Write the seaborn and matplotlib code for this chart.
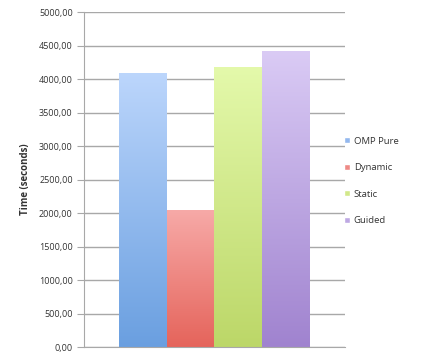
import seaborn as sns
import matplotlib.pyplot as plt
import matplotlib.colors as mcolors
import numpy as np
import pandas as pd

schedules = ['OMP Pure', 'Dynamic', 'Static', 'Guided']
times = [4090, 2050, 4180, 4420]
top_colors = ['#bcd6fc', '#f7aaa8', '#e4f9ab', '#dacbf5']
bottom_colors = ['#6a9fe0', '#e5645b', '#bcd768', '#a083cf']
legend_colors = ['#93b8ee', '#ee8a86', '#d2e88a', '#bea8e3']

df = pd.DataFrame({'run': [''] * 4, 'schedule': schedules, 'time': times})

sns.set_style('white')
plt.rcParams['font.family'] = ['Open Sans', 'DejaVu Sans']

fig = plt.figure(figsize=(4.39, 3.56), dpi=100)
ax = fig.add_axes([0.191, 0.025, 0.595, 0.941])

sns.barplot(data=df, x='run', y='time', hue='schedule', palette=bottom_colors,
            width=0.73, ax=ax, legend=True)

# excel-like vertical gradient on each bar
for patch, c0, c1 in zip(ax.patches, top_colors, bottom_colors):
    x0, y0 = patch.get_x(), patch.get_y()
    w, h = patch.get_width(), patch.get_height()
    cmap = mcolors.LinearSegmentedColormap.from_list('g', [c1, c0])
    grad = np.linspace(0, 1, 256).reshape(-1, 1)
    im = ax.imshow(grad, extent=[x0, x0 + w, y0, y0 + h], origin='lower',
                   aspect='auto', cmap=cmap, zorder=patch.get_zorder())
    im.set_clip_path(patch)
    patch.set_edgecolor('none')

ax.set_xlim(-0.5, 0.5)
ax.set_ylim(0, 5000)
ax.set_yticks(np.arange(0, 5001, 500))
ax.set_yticklabels([f'{v:.2f}'.replace('.', ',') for v in np.arange(0, 5001, 500)],
                   fontsize=6.5, color='#333333')
ax.yaxis.grid(True, color='#a8a8a8', linewidth=1)
ax.set_axisbelow(True)
ax.tick_params(axis='y', length=5, color='#a8a8a8', left=True, pad=3)
ax.set_xticks([])
ax.set_xlabel('')
ax.set_ylabel('Time (seconds)', fontsize=7, fontweight='bold', color='#333333', labelpad=6)

for s in ['top', 'right']:
    ax.spines[s].set_visible(False)
ax.spines['left'].set_color('#a8a8a8')
ax.spines['bottom'].set_color('#a8a8a8')

handles, labels = ax.get_legend_handles_labels()
ax.legend_.remove()
for hd, c in zip(handles, legend_colors):
    hd.set_facecolor(c)
fig.legend(handles, labels, loc='center left', bbox_to_anchor=(0.765, 0.492),
           frameon=False, fontsize=6.8, handlelength=0.6, handleheight=0.6,
           labelspacing=1.85, handletextpad=0.4, labelcolor='#333333')

plt.savefig('out.png', dpi=100)
